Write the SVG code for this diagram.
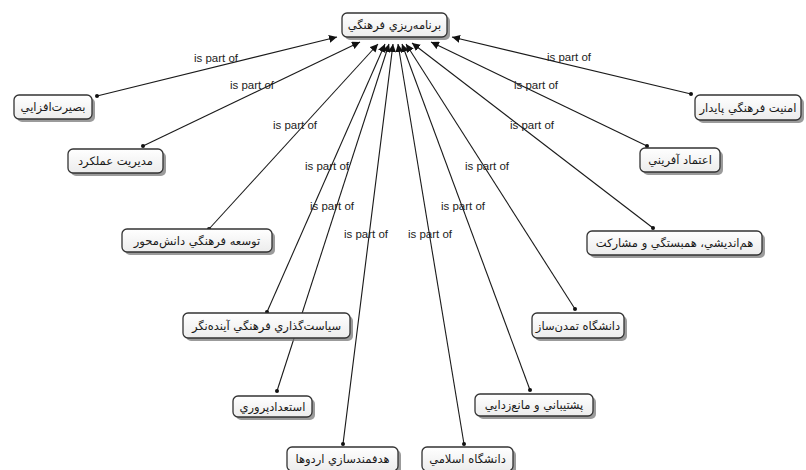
<svg xmlns="http://www.w3.org/2000/svg" width="806" height="470" viewBox="0 0 806 470">
<defs>
<marker id="arr" viewBox="0 0 10 10" refX="10" refY="5" markerWidth="8" markerHeight="8" markerUnits="userSpaceOnUse" orient="auto">
<path d="M0,0 L10,5 L0,10 z" fill="#111"/>
</marker>
<linearGradient id="g" x1="0" y1="0" x2="0" y2="1">
<stop offset="0" stop-color="#ffffff"/>
<stop offset="1" stop-color="#ececec"/>
</linearGradient>
</defs>
<style>
.sh{fill:#7a7a7a;opacity:0.75}
.bx{fill:url(#g);stroke:#333;stroke-width:1.3}
.t{font-family:"DejaVu Sans",sans-serif;font-size:11.5px;fill:#1a1a1a;text-anchor:middle;direction:rtl}
.e{stroke:#1a1a1a;stroke-width:1.1;fill:none;marker-end:url(#arr)}
.d{fill:#111}
.l{font-family:"Liberation Sans",Arial,sans-serif;font-size:11.5px;fill:#222;text-anchor:middle}
</style>
<rect width="806" height="470" fill="#fff"/>
<g id="connectors">
<line class="e" x1="97" y1="96" x2="337" y2="37"/>
<line class="e" x1="143" y1="146" x2="360" y2="42"/>
<line class="e" x1="209" y1="229" x2="378" y2="44"/>
<line class="e" x1="267" y1="312" x2="385" y2="44"/>
<line class="e" x1="277" y1="391" x2="389" y2="44"/>
<line class="e" x1="343" y1="444" x2="393" y2="44"/>
<line class="e" x1="464" y1="444" x2="398" y2="44"/>
<line class="e" x1="530" y1="390" x2="402" y2="44"/>
<line class="e" x1="575" y1="309" x2="406" y2="44"/>
<line class="e" x1="653" y1="228" x2="412" y2="43"/>
<line class="e" x1="647" y1="146" x2="431" y2="42"/>
<line class="e" x1="691" y1="94" x2="452" y2="37"/>
<circle class="d" cx="97" cy="96" r="2"/>
<circle class="d" cx="143" cy="146" r="2"/>
<circle class="d" cx="209" cy="229" r="2"/>
<circle class="d" cx="267" cy="312" r="2"/>
<circle class="d" cx="277" cy="391" r="2"/>
<circle class="d" cx="343" cy="444" r="2"/>
<circle class="d" cx="464" cy="444" r="2"/>
<circle class="d" cx="530" cy="390" r="2"/>
<circle class="d" cx="575" cy="309" r="2"/>
<circle class="d" cx="653" cy="228" r="2"/>
<circle class="d" cx="647" cy="146" r="2"/>
<circle class="d" cx="691" cy="94" r="2"/>
<text class="l" x="216" y="62">is part of</text>
<text class="l" x="252" y="89">is part of</text>
<text class="l" x="295" y="129">is part of</text>
<text class="l" x="327" y="170">is part of</text>
<text class="l" x="332" y="210">is part of</text>
<text class="l" x="366" y="238">is part of</text>
<text class="l" x="430" y="238">is part of</text>
<text class="l" x="463" y="210">is part of</text>
<text class="l" x="487" y="170">is part of</text>
<text class="l" x="532" y="129">is part of</text>
<text class="l" x="536" y="89">is part of</text>
<text class="l" x="569" y="61">is part of</text>
</g>
<g id="root">
<rect class="sh" x="345" y="16" width="105" height="24" rx="5"/>
<rect class="bx" x="342" y="13" width="105" height="24" rx="5"/>
<text class="t" x="394.5" y="29">برنامه‌ريزي فرهنگي</text>
</g>
<g id="n1">
<rect class="sh" x="17" y="98" width="78" height="24" rx="5"/>
<rect class="bx" x="14" y="95" width="78" height="24" rx="5"/>
<text class="t" x="53" y="111">بصيرت‌افزايي</text>
</g>
<g id="n2">
<rect class="sh" x="71" y="152" width="95" height="24" rx="5"/>
<rect class="bx" x="68" y="149" width="95" height="24" rx="5"/>
<text class="t" x="115.5" y="165">مديريت عملكرد</text>
</g>
<g id="n3">
<rect class="sh" x="125" y="232" width="150" height="23" rx="5"/>
<rect class="bx" x="122" y="229" width="150" height="23" rx="5"/>
<text class="t" x="197" y="245">توسعه فرهنگي دانش‌محور</text>
</g>
<g id="n4">
<rect class="sh" x="186" y="316" width="167" height="25" rx="5"/>
<rect class="bx" x="183" y="313" width="167" height="25" rx="5"/>
<text class="t" x="266.5" y="330">سياست‌گذاري فرهنگي آينده‌نگر</text>
</g>
<g id="n5">
<rect class="sh" x="236" y="399" width="79" height="21" rx="5"/>
<rect class="bx" x="233" y="396" width="79" height="21" rx="5"/>
<text class="t" x="272.5" y="411">استعدادپروري</text>
</g>
<g id="n6">
<rect class="sh" x="290" y="450" width="111" height="24" rx="5"/>
<rect class="bx" x="287" y="447" width="111" height="24" rx="5"/>
<text class="t" x="342.5" y="463">هدفمندسازي اردوها</text>
</g>
<g id="n7">
<rect class="sh" x="425" y="450" width="91" height="24" rx="5"/>
<rect class="bx" x="422" y="447" width="91" height="24" rx="5"/>
<text class="t" x="467.5" y="463">دانشگاه اسلامي</text>
</g>
<g id="n8">
<rect class="sh" x="478" y="397" width="118" height="22" rx="5"/>
<rect class="bx" x="475" y="394" width="118" height="22" rx="5"/>
<text class="t" x="534" y="409">پشتيباني و مانع‌زدايي</text>
</g>
<g id="n9">
<rect class="sh" x="535" y="316" width="92" height="25" rx="5"/>
<rect class="bx" x="532" y="313" width="92" height="25" rx="5"/>
<text class="t" x="578" y="330">دانشگاه تمدن‌ساز</text>
</g>
<g id="n10">
<rect class="sh" x="590" y="234" width="175" height="24" rx="5"/>
<rect class="bx" x="587" y="231" width="175" height="24" rx="5"/>
<text class="t" x="674.5" y="247">هم‌انديشي، همبستگي و مشاركت</text>
</g>
<g id="n11">
<rect class="sh" x="643" y="151" width="80" height="24" rx="5"/>
<rect class="bx" x="640" y="148" width="80" height="24" rx="5"/>
<text class="t" x="680" y="164">اعتماد آفريني</text>
</g>
<g id="n12">
<rect class="sh" x="698" y="98" width="106" height="25" rx="5"/>
<rect class="bx" x="695" y="95" width="106" height="25" rx="5"/>
<text class="t" x="748" y="112">امنيت فرهنگي پايدار</text>
</g>
</svg>
